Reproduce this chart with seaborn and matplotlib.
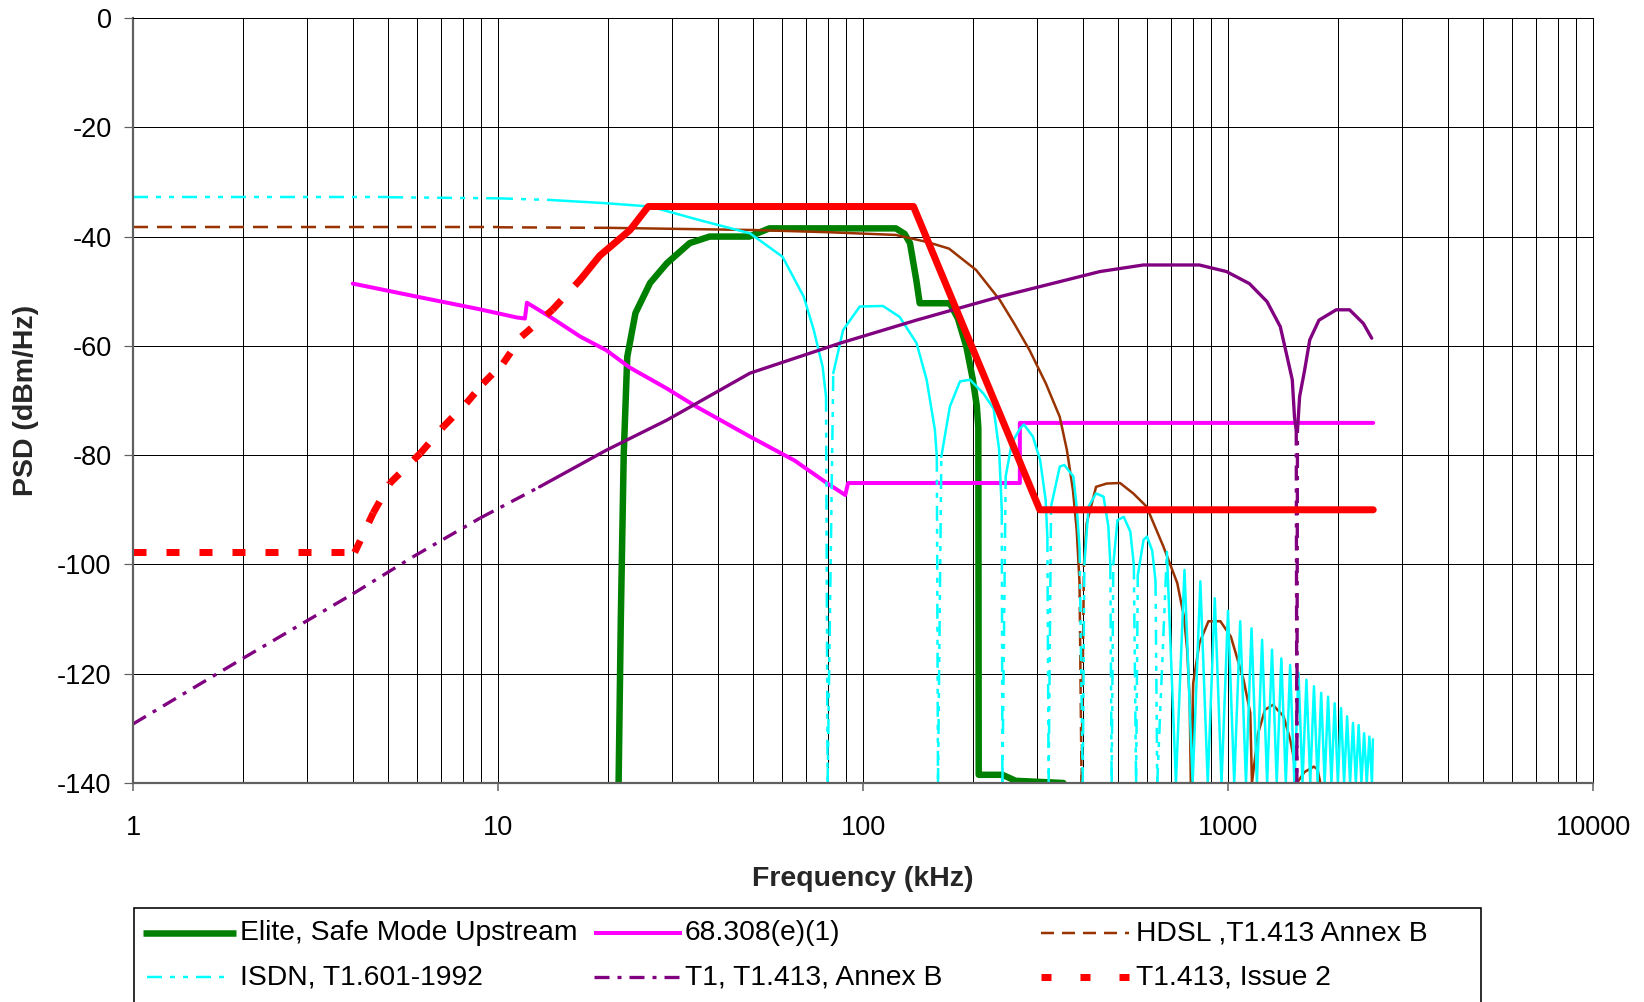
"""
plot.py
PSD masks of several DSL / T1 / ISDN services against frequency (log axis).
"""

import numpy as np
import matplotlib
matplotlib.use("Agg")
import matplotlib.pyplot as plt
import matplotlib.ticker as mticker
from matplotlib.collections import LineCollection
from matplotlib.lines import Line2D
from matplotlib.patches import Rectangle
import seaborn as sns

sns.set_theme(style="white")
plt.rcParams["font.family"] = ["Liberation Sans", "DejaVu Sans"]
plt.rcParams["axes.unicode_minus"] = False
plt.rcParams["lines.scale_dashes"] = False

PX = 0.72          # points per pixel at dpi=100
FLOOR = -140
W, H = 1644, 1002

# ── data (frequency in kHz, PSD in dBm/Hz) ───────────────────────────────────
elite_f = [21.4, 21.7, 22.1, 22.6, 23.8, 26.1, 29.0, 33.5, 38.0, 48.8, 55.4, 123, 130,
           134.5, 140, 143, 173, 182, 192, 200, 205, 207, 207.5, 241, 262, 354]
elite_db = [-140, -110, -80, -62, -54, -48.5, -44.9, -41.2, -40.0, -40.0, -38.5, -38.5, -39.5,
            -41.2, -48.0, -52.2, -52.2, -55.0, -60.2, -66.2, -71.0, -75.0, -138.5, -138.5, -139.6, -140]

fcc_f = [4.0, 6.0, 8.9, 11.25, 11.85, 12.0, 13.9, 16.8, 19.8, 23.0, 29.0, 34.9, 49.0, 65.0,
         79.6, 89.4, 91.0, 269, 269, 2500]
fcc_db = [-48.6, -51.0, -53.3, -54.8, -55.0, -52.1, -54.7, -58.3, -60.8, -64.0, -67.8, -71.1,
          -76.6, -81.0, -85.1, -87.3, -85.1, -85.1, -74.1, -74.1]

hdsl_f = [1, 10, 20, 50, 80, 123, 150, 172, 204, 237, 260, 286, 317, 346, 362, 376, 385, 392,
          397, 403, 410, 435, 465, 506, 550, 598, 665, 726, 757, 773, 785, 791, 803, 835, 884,
          953, 1018, 1103, 1151, 1163, 1209, 1263, 1327, 1420, 1481, 1510, 1544, 1620, 1718,
          1760, 1790]
hdsl_db = [-38.3, -38.3, -38.4, -38.8, -39.2, -39.7, -41.0, -42.2, -46.1, -51.6, -56.0, -60.8,
           -66.9, -73.0, -79.1, -86.4, -93.7, -103.4, -140, -100, -92.5, -85.8, -85.2, -85.1,
           -87.0, -89.4, -96.7, -103.4, -109.5, -115.6, -124.8, -140, -121.7, -114.4, -110.4,
           -110.4, -113.2, -121.1, -127.2, -140, -130.9, -126.6, -125.7, -127.8, -132.1, -135.0,
           -140, -138.0, -137.0, -137.5, -140]

isdn_f = [1, 5, 10, 13.9, 19.8, 26.1, 35.7, 49, 60.2, 68.8, 73.3, 77.5, 79.2, 80,
          82.9, 88.2, 98, 113.4, 126, 140.2, 149.4, 157.4, 159.3, 160.5,
          163.9, 173, 184.4, 196.4, 213.7, 228, 236, 240, 241,
          246, 255.6, 269.5, 276, 292, 305.7, 316.5, 320, 322.5,
          327.5, 346, 356, 377, 385, 392, 400,
          404, 415, 435, 456, 470, 476, 480,
          485, 498, 518, 540, 552, 560,
          566, 587, 600, 620, 633, 640,
          680, 720, 760, 800, 840, 880, 920, 960, 1000, 1040, 1080, 1120, 1160, 1200,
          1240, 1280, 1320, 1360, 1400, 1440, 1480, 1520, 1560, 1600, 1640, 1680, 1720,
          1760, 1800, 1840, 1880, 1920, 1960, 2000, 2040, 2080, 2120, 2160, 2200, 2240,
          2280, 2320, 2360, 2400, 2440, 2480, 2495]
isdn_db = [-32.8, -32.8, -33.0, -33.3, -33.9, -34.5, -37.0, -39.4, -43.7, -51.0, -57.1, -63.8, -69.3, -140,
           -65.0, -57.1, -52.8, -52.7, -54.7, -59.5, -66.2, -75.4, -80.3, -140,
           -80.3, -71.1, -66.5, -66.2, -68.7, -71.5, -79.0, -90.0, -140,
           -83.9, -77.8, -75.1, -74.4, -76.6, -80.9, -88.2, -95.0, -140,
           -89.4, -82.1, -81.8, -83.9, -89.5, -97.0, -140,
           -100, -89.4, -87.0, -87.6, -93.0, -100, -140,
           -100, -91.9, -91.3, -94.0, -100, -140,
           -102, -95.5, -94.9, -97.5, -103, -140,
           -97.7, -140, -101.0, -140, -103.1, -140, -106.2, -140, -108.5, -140, -110.4, -140,
           -111.7, -140, -113.8, -140, -115.6, -140, -117.2, -140, -118.4, -140, -119.8, -140,
           -121.1, -140, -122.3, -140, -123.5, -140, -124.2, -140, -125.4, -140, -126.3, -140,
           -127.8, -140, -129.0, -140, -129.4, -140, -130.9, -140, -131.5, -140, -132.0]

t1_f = [1, 2, 4, 5.85, 8.94, 13, 19.8, 29, 49, 86.6, 140, 237, 446, 586, 835, 990, 1144,
        1279, 1391, 1452, 1500, 1521, 1538, 1544, 1550, 1571, 1622, 1675, 1775, 1979, 2153,
        2349, 2476]
t1_db = [-129.2, -117.2, -105.4, -98.6, -91.5, -85.8, -79.1, -73.6, -65.0, -59.5, -55.3, -51.0,
         -46.4, -45.2, -45.2, -46.4, -48.6, -51.9, -56.5, -62.0, -66.2, -73.0, -75.5, -140,
         -75.5, -69.3, -64.4, -58.9, -55.3, -53.4, -53.4, -55.9, -58.6]

t1413_f = [1, 4.05, 4.55, 5.06, 6.12, 7.08, 8.19, 9.1, 10.33, 11.6, 14.1, 16.8, 19.0, 23.0,
           25.8, 137.5, 305, 2500]
t1413_db = [-97.8, -97.8, -90.6, -85.1, -79.7, -74.8, -70.5, -66.9, -63.2, -58.3, -53.4, -47.9,
            -43.5, -38.8, -34.5, -34.5, -90.0, -90.0]

# ── styles (line widths / dash patterns in pixels) ──────────────────────────
C_GREEN, C_MAGENTA, C_BROWN = "#008000", "#FF00FF", "#993300"
C_CYAN, C_PURPLE, C_RED = "#00FFFF", "#800080", "#FF0000"
DASH_BROWN = (15, 9)
DASH_CYAN = (15, 8, 5, 8, 5, 8)
DASH_PURPLE = (15, 8, 4, 8)
DASH_RED = (13, 20)

fig = plt.figure(figsize=(W / 100, H / 100), dpi=100)
ax = fig.add_axes([133 / W, 1 - 783 / H, 1460 / W, 765 / H])
ax.set_xscale("log")


def draw_series(f, db, color, lw, z, dash=None, dashed_until=0.0, floor_dashed_until=0.0):
    """Solid runs via seaborn; patterned segments restart their dash at every point."""
    f = np.asarray(f, float)
    db = np.asarray(db, float)
    patterned = []
    for i in range(len(f) - 1):
        low = min(db[i], db[i + 1])
        p = dash is not None and (f[i + 1] <= dashed_until or
                                  (low <= FLOOR + 0.5 and f[i] < floor_dashed_until))
        patterned.append(p)
    start = None
    for i, p in enumerate(patterned + [True]):
        if not p and start is None:
            start = i
        if p and start is not None:
            sns.lineplot(x=f[start:i + 1], y=db[start:i + 1], sort=False, estimator=None,
                         color=color, linewidth=lw * PX, solid_joinstyle="round",
                         ax=ax, zorder=z)
            start = None
    segs = [[(f[i], db[i]), (f[i + 1], db[i + 1])] for i, p in enumerate(patterned) if p]
    if segs:
        lc = LineCollection(segs, colors=color, linewidths=lw * PX,
                            linestyles=[(0, tuple(d * PX for d in dash))],
                            capstyle="butt", zorder=z)
        ax.add_collection(lc)


draw_series(elite_f, elite_db, C_GREEN, 6.5, 2.0)
draw_series(fcc_f, fcc_db, C_MAGENTA, 4.0, 2.1)
draw_series(hdsl_f, hdsl_db, C_BROWN, 2.5, 2.2, DASH_BROWN, dashed_until=20, floor_dashed_until=500)
draw_series(isdn_f, isdn_db, C_CYAN, 2.5, 2.3, DASH_CYAN, dashed_until=13.9, floor_dashed_until=650)
draw_series(t1_f, t1_db, C_PURPLE, 3.3, 2.4, DASH_PURPLE, dashed_until=13, floor_dashed_until=2000)
draw_series(t1413_f, t1413_db, C_RED, 7.0, 2.5, DASH_RED, dashed_until=16.8)

# ── axes ─────────────────────────────────────────────────────────────────────
ax.set_xlim(1, 10000)
ax.set_ylim(-140, 0)
ax.set_yticks(range(-140, 1, 20))
ax.xaxis.set_major_locator(mticker.LogLocator(base=10))
ax.xaxis.set_minor_locator(mticker.LogLocator(base=10, subs=range(2, 10)))
ax.xaxis.set_major_formatter(mticker.FuncFormatter(lambda v, p: f"{v:g}"))
ax.xaxis.set_minor_formatter(mticker.NullFormatter())
ax.set_axisbelow(True)
ax.grid(True, which="both", axis="x", color="black", linewidth=1.0 * PX)
ax.grid(True, which="major", axis="y", color="black", linewidth=1.0 * PX)
ax.tick_params(axis="x", which="major", direction="out", length=8 * PX, width=1.5 * PX,
               color="#606060", pad=17, labelsize=19.5, labelcolor="black", bottom=True)
ax.tick_params(axis="x", which="minor", length=0)
ax.tick_params(axis="y", direction="out", length=9 * PX, width=1.2 * PX, color="#606060",
               pad=9, labelsize=19.5, labelcolor="black", left=True)
for side in ["left", "bottom"]:
    ax.spines[side].set_color("#606060")
    ax.spines[side].set_linewidth(2.2 * PX)
for side in ["top", "right"]:
    ax.spines[side].set_color("black")
    ax.spines[side].set_linewidth(1.0 * PX)

ax.set_xlabel("Frequency (kHz)", fontsize=20.5, fontweight="bold", va="center")
ax.xaxis.set_label_coords(0.5, (783 - 878.5) / 765)
ax.set_ylabel("PSD (dBm/Hz)", fontsize=20.5, fontweight="bold", va="center")
ax.yaxis.set_label_coords((26 - 133) / 1460, 0.5)

# ── legend box (Excel-style, runs off the bottom edge) ───────────────────────
def fx(x):
    return x / W


def fy(y):
    return 1 - y / H


fig.add_artist(Rectangle((fx(134), -0.05), fx(1481) - fx(134), fy(908) + 0.05,
                         transform=fig.transFigure, fill=False, edgecolor="black",
                         linewidth=1.6 * PX))
entries = [
    ("Elite, Safe Mode Upstream", C_GREEN, 6.5, None, 143, 236, 240, 933),
    ("68.308(e)(1)", C_MAGENTA, 4.0, None, 594, 682, 685, 933),
    ("HDSL ,T1.413 Annex B", C_BROWN, 2.5, (13, 8), 1041, 1129, 1136, 933),
    ("ISDN, T1.601-1992", C_CYAN, 2.5, DASH_CYAN, 147, 224, 240, 977),
    ("T1, T1.413, Annex B", C_PURPLE, 3.3, DASH_PURPLE, 594, 682, 685, 977),
    ("T1.413, Issue 2", C_RED, 7.0, (10, 29), 1041, 1129, 1136, 977),
]
for label, color, lw, dash, x0, x1, xt, y in entries:
    ln = Line2D([fx(x0), fx(x1)], [fy(y), fy(y)], transform=fig.transFigure,
                color=color, linewidth=lw * PX, solid_capstyle="butt", dash_capstyle="butt")
    if dash is not None:
        ln.set_dashes([d * PX for d in dash])
    fig.add_artist(ln)
    fig.text(fx(xt), fy(y), label, fontsize=20.3, va="center", ha="left", color="black")

fig.savefig("out.png", dpi=100)
